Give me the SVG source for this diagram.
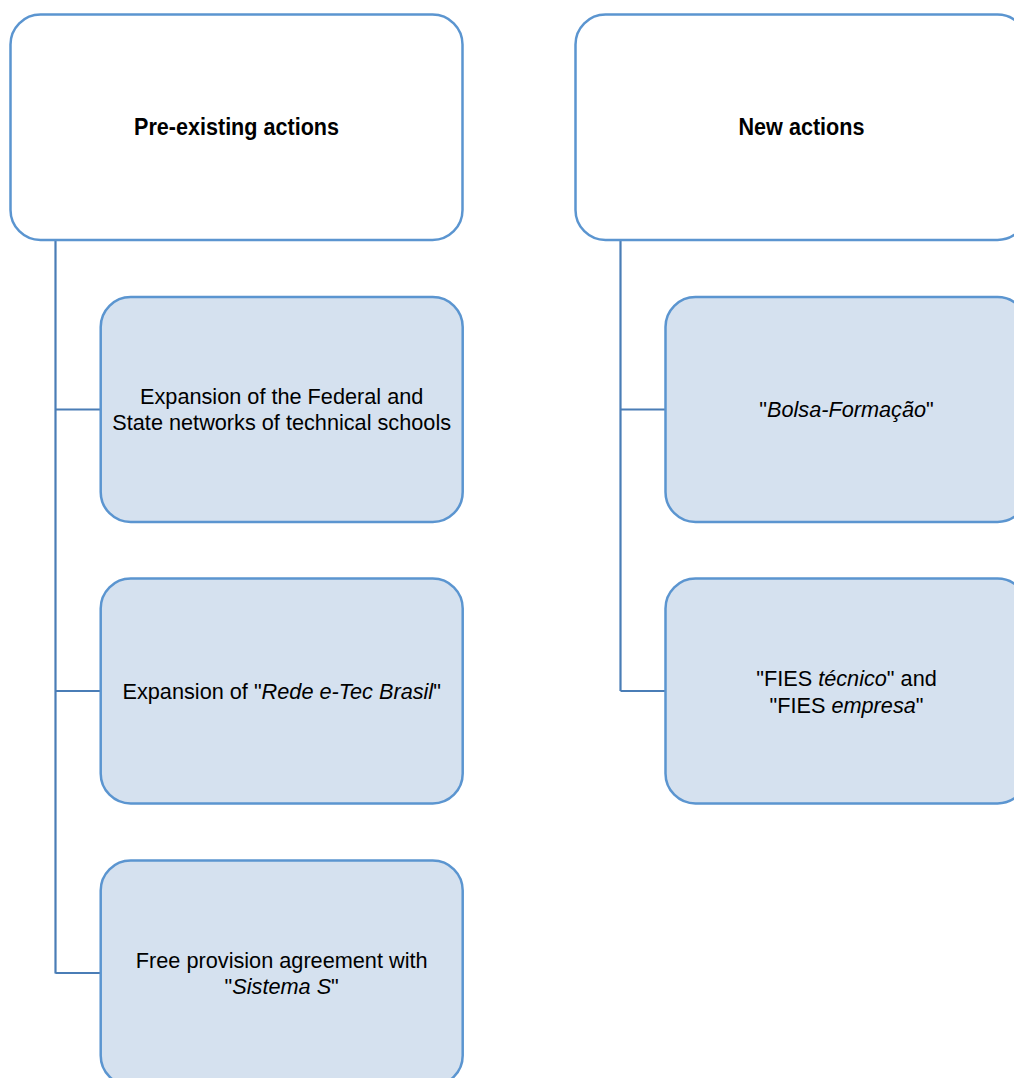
<svg xmlns="http://www.w3.org/2000/svg" width="1014" height="1078" viewBox="0 0 1014 1078">
<style>
.hdr{fill:#ffffff;stroke:#5b95d0;stroke-width:2.5}
.child{fill:#d5e1ef;stroke:#5b95d0;stroke-width:2.5}
.conn{fill:none;stroke:#4a7db6;stroke-width:2.2}
.t{font-family:"Liberation Sans",Arial,sans-serif;font-size:21.7px;fill:#000;text-anchor:middle}
.b{font-weight:bold;font-size:23px}
.i{font-style:italic}
</style>
<rect width="1014" height="1078" fill="#ffffff"/>
<g id="connectors">
<path class="conn" d="M55.5 240 V973.5 M55.5 409.5 H101 M55.5 691 H101 M55.5 973 H101"/>
<path class="conn" d="M620.5 240 V691 M620.5 409.5 H665 M620.5 691 H665"/>
</g>
<g id="pre-existing">
<rect class="hdr" x="10.5" y="14.5" width="452" height="225.5" rx="30"/>
<text class="t b" x="236.5" y="135" textLength="205" lengthAdjust="spacingAndGlyphs">Pre-existing actions</text>
</g>
<g id="new">
<rect class="hdr" x="575.5" y="14.5" width="452" height="225.5" rx="30"/>
<text class="t b" x="801.5" y="135" textLength="126" lengthAdjust="spacingAndGlyphs">New actions</text>
</g>
<g id="expansion-federal">
<rect class="child" x="100.7" y="297" width="362" height="225" rx="30"/>
<text class="t" x="281.7" y="404">Expansion of the Federal and</text>
<text class="t" x="281.7" y="430">State networks of technical schools</text>
</g>
<g id="expansion-etec">
<rect class="child" x="100.7" y="578.5" width="362" height="225" rx="30"/>
<text class="t" x="281.7" y="698.5">Expansion of "<tspan class="i">Rede e-Tec Brasil</tspan>"</text>
</g>
<g id="sistema-s">
<rect class="child" x="100.7" y="860.5" width="362" height="225" rx="30"/>
<text class="t" x="281.7" y="968">Free provision agreement with</text>
<text class="t" x="281.7" y="994">"<tspan class="i">Sistema S</tspan>"</text>
</g>
<g id="bolsa">
<rect class="child" x="665.5" y="297" width="362" height="225" rx="30"/>
<text class="t" x="846.5" y="417">"<tspan class="i">Bolsa-Formação</tspan>"</text>
</g>
<g id="fies">
<rect class="child" x="665.5" y="578.5" width="362" height="225" rx="30"/>
<text class="t" x="846.5" y="686">"FIES <tspan class="i">técnico</tspan>" and</text>
<text class="t" x="846.5" y="712.5">"FIES <tspan class="i">empresa</tspan>"</text>
</g>
</svg>
